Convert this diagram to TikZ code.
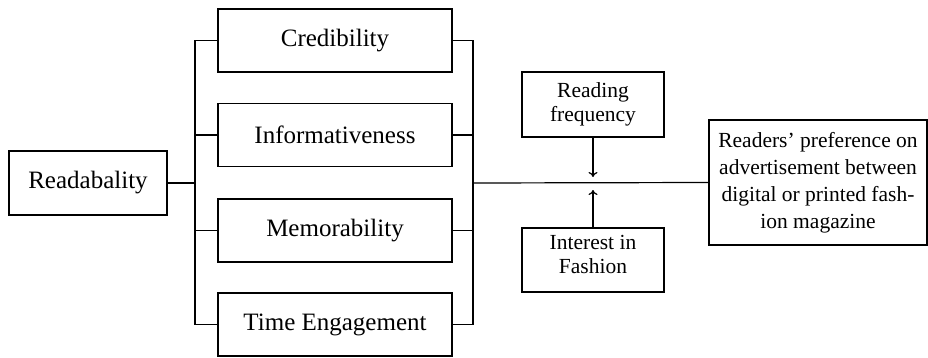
\documentclass[tikz,border=0pt]{standalone}
\usepackage{fontspec}
\setmainfont{Liberation Serif}
\usetikzlibrary{arrows.meta}
\begin{document}
\begin{tikzpicture}[x=1pt,y=1pt,
  box/.style={draw,line width=1.2pt,inner sep=0pt,align=center,font=\fontsize{25}{28}\selectfont},
  sbox/.style={draw,line width=1.2pt,inner sep=0pt,align=center,font=\fontsize{21.5}{24}\selectfont},
  pbox/.style={sbox,font=\fontsize{21.5}{27}\selectfont},
  conn/.style={line width=1.2pt},
  arr/.style={line width=1.2pt,-{To[length=5pt,width=9pt]}}]
\useasboundingbox (0,0) rectangle (928,357);
\node[box,minimum width=158pt,minimum height=64pt] (read) at (88,174) {Readabality};
\node[box,minimum width=234pt,minimum height=63pt] (cred) at (335,316.5) {Credibility};
\node[box,minimum width=234pt,minimum height=63pt] (info) at (335,222) {Informativeness};
\node[box,minimum width=234pt,minimum height=63pt] (mem) at (335,126.5) {Memorability};
\node[box,minimum width=234pt,minimum height=63pt] (time) at (335,32.5) {Time Engagement};
\node[sbox,minimum width=142pt,minimum height=65pt] (freq) at (593,252.5) {Reading\\frequency};
\node[sbox,minimum width=142pt,minimum height=64pt,text depth=12pt] (int) at (593,97) {Interest in\\Fashion};
\node[pbox,minimum width=218pt,minimum height=125pt] (pref) at (818,174.5) {Readers’ preference on\\advertisement between\\digital or printed fash-\\ion magazine};
\coordinate (lb) at (195,174);
\coordinate (rb) at (473,174);
\coordinate (fa) at (593,180);
\coordinate (ia) at (593,167);
\draw[conn] (read) -- (lb);
\draw[conn] (cred.west) -- (cred.west -| lb) -- (time.west -| lb) -- (time.west);
\draw[conn] (info.west) -- (info.west -| lb);
\draw[conn] (mem.west) -- (mem.west -| lb);
\draw[conn] (cred.east) -- (cred.east -| rb) -- (time.east -| rb) -- (time.east);
\draw[conn] (info.east) -- (info.east -| rb);
\draw[conn] (mem.east) -- (mem.east -| rb);
\draw[conn] (rb) -- (pref.west);
\draw[arr] (freq.south) -- (fa);
\draw[arr] (int.north) -- (ia);
\end{tikzpicture}
\end{document}
